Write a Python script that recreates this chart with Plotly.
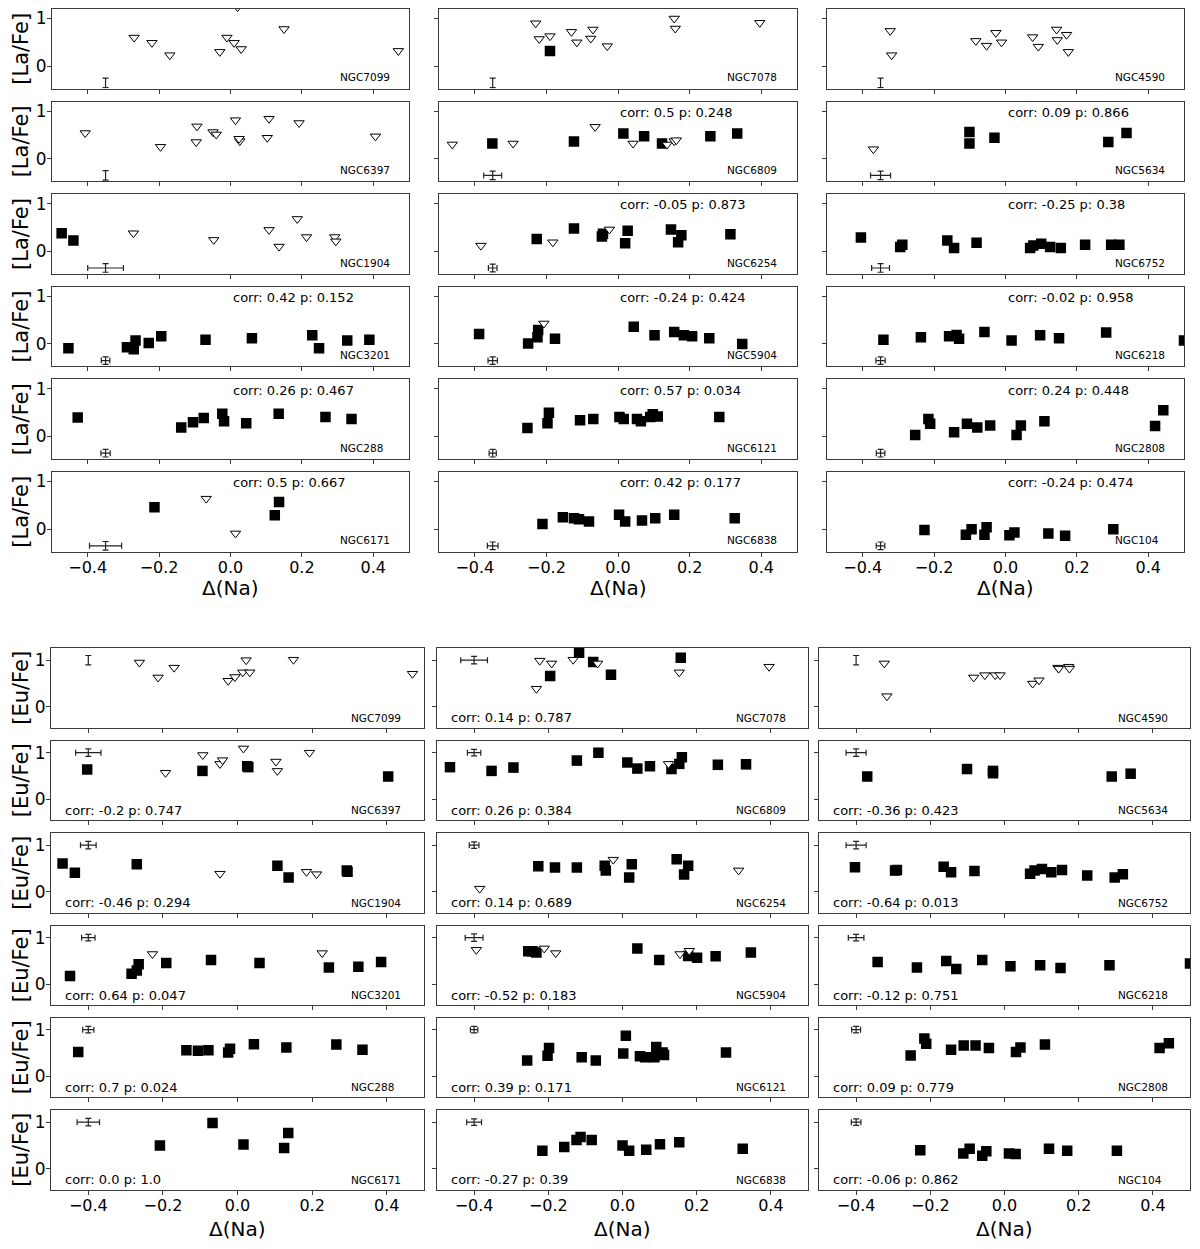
import plotly.graph_objects as go

# ---------------------------------------------------------------------------
# data: (delta Na, [X/Fe]) pairs
# sq = detections (filled squares), tri = upper limits (open triangles)
# ---------------------------------------------------------------------------
CLUSTERS = ["NGC7099", "NGC7078", "NGC4590",
            "NGC6397", "NGC6809", "NGC5634",
            "NGC1904", "NGC6254", "NGC6752",
            "NGC3201", "NGC5904", "NGC6218",
            "NGC288", "NGC6121", "NGC2808",
            "NGC6171", "NGC6838", "NGC104"]

# [La/Fe]
la_sq_7099 = []
la_tri_7099 = [(-0.27, 0.60), (-0.22, 0.49), (-0.17, 0.23), (-0.03, 0.30), (-0.01, 0.60),
               (0.01, 0.49), (0.03, 0.36), (0.15, 0.78), (0.47, 0.32), (0.02, 1.24)]
la_sq_7078 = [(-0.19, 0.32)]
la_tri_7078 = [(-0.23, 0.90), (-0.22, 0.57), (-0.19, 0.63), (-0.13, 0.72), (-0.115, 0.50),
               (-0.07, 0.77), (-0.076, 0.58), (-0.03, 0.42), (0.157, 1.0), (0.16, 0.79), (0.396, 0.91)]
la_sq_4590 = []
la_tri_4590 = [(-0.323, 0.74), (-0.319, 0.23), (-0.083, 0.53), (-0.053, 0.43), (-0.027, 0.70),
               (-0.011, 0.50), (0.076, 0.61), (0.092, 0.41), (0.143, 0.77), (0.145, 0.55),
               (0.171, 0.66), (0.176, 0.30)]
la_sq_6397 = []
la_tri_6397 = [(-0.407, 0.54), (-0.196, 0.25), (-0.094, 0.68), (-0.096, 0.35), (-0.049, 0.56),
               (-0.040, 0.51), (0.014, 0.81), (0.026, 0.37), (0.024, 0.42), (0.108, 0.84),
               (0.103, 0.44), (0.192, 0.75), (0.406, 0.47)]
la_sq_6809 = [(-0.351, 0.32), (-0.123, 0.36), (0.015, 0.53), (0.073, 0.47), (0.123, 0.32),
              (0.258, 0.47), (0.333, 0.53)]
la_tri_6809 = [(-0.463, 0.30), (-0.293, 0.32), (-0.064, 0.67), (0.042, 0.32), (0.137, 0.30),
               (0.157, 0.37), (0.163, 0.39)]
la_sq_5634 = [(-0.101, 0.56), (-0.101, 0.32), (-0.031, 0.44), (0.288, 0.35), (0.339, 0.54)]
la_tri_5634 = [(-0.370, 0.20)]
la_sq_1904 = [(-0.473, 0.38), (-0.440, 0.23)]
la_tri_1904 = [(-0.272, 0.38), (-0.047, 0.24), (0.108, 0.45), (0.136, 0.10), (0.187, 0.68),
               (0.213, 0.30), (0.292, 0.30), (0.295, 0.21)]
la_sq_6254 = [(-0.227, 0.26), (-0.123, 0.48), (-0.045, 0.31), (-0.042, 0.37), (0.027, 0.43),
              (0.020, 0.17), (0.148, 0.46), (0.177, 0.34), (0.168, 0.19), (0.314, 0.36)]
la_tri_6254 = [(-0.383, 0.12), (-0.182, 0.19), (-0.024, 0.46)]
la_sq_6752 = [(-0.405, 0.29), (-0.295, 0.09), (-0.289, 0.14), (-0.163, 0.23), (-0.144, 0.07),
              (-0.081, 0.18), (0.069, 0.07), (0.078, 0.12), (0.100, 0.16), (0.125, 0.09),
              (0.155, 0.07), (0.223, 0.14), (0.296, 0.14), (0.319, 0.14)]
la_tri_6752 = []
la_sq_3201 = [(-0.454, -0.09), (-0.290, -0.07), (-0.271, -0.11), (-0.266, 0.07), (-0.229, 0.02),
              (-0.194, 0.16), (-0.070, 0.09), (0.060, 0.12), (0.229, 0.18), (0.248, -0.09),
              (0.327, 0.07), (0.389, 0.09)]
la_tri_3201 = []
la_sq_5904 = [(-0.388, 0.21), (-0.251, 0.01), (-0.225, 0.14), (-0.223, 0.29), (-0.176, 0.11),
              (0.044, 0.36), (0.102, 0.18), (0.157, 0.25), (0.184, 0.18), (0.207, 0.16),
              (0.255, 0.12), (0.347, 0.0)]
la_tri_5904 = [(-0.207, 0.43)]
la_sq_6218 = [(-0.342, 0.09), (-0.237, 0.14), (-0.158, 0.16), (-0.137, 0.19), (-0.130, 0.11),
              (-0.059, 0.25), (0.017, 0.07), (0.097, 0.18), (0.150, 0.12), (0.282, 0.24), (0.50, 0.07)]
la_tri_6218 = []
la_sq_288 = [(-0.428, 0.40), (-0.138, 0.19), (-0.105, 0.30), (-0.075, 0.39), (-0.023, 0.48),
             (-0.018, 0.32), (0.044, 0.28), (0.135, 0.48), (0.266, 0.41), (0.339, 0.37)]
la_tri_288 = []
la_sq_6121 = [(-0.253, 0.18), (-0.197, 0.28), (-0.193, 0.50), (-0.106, 0.34), (-0.069, 0.37),
              (0.004, 0.41), (0.016, 0.37), (0.053, 0.37), (0.064, 0.32), (0.090, 0.41),
              (0.097, 0.47), (0.111, 0.42), (0.283, 0.41)]
la_tri_6121 = []
la_sq_2808 = [(-0.253, 0.03), (-0.216, 0.37), (-0.211, 0.27), (-0.144, 0.09), (-0.108, 0.27),
              (-0.079, 0.19), (-0.043, 0.23), (0.031, 0.03), (0.043, 0.23), (0.109, 0.32),
              (0.419, 0.22), (0.442, 0.55)]
la_tri_2808 = []
la_sq_6171 = [(-0.213, 0.46), (0.124, 0.29), (0.136, 0.57)]
la_tri_6171 = [(-0.068, 0.64), (0.014, -0.09)]
la_sq_6838 = [(-0.211, 0.11), (-0.154, 0.25), (-0.123, 0.23), (-0.109, 0.21), (-0.081, 0.16),
              (0.003, 0.30), (0.020, 0.16), (0.067, 0.18), (0.104, 0.23), (0.157, 0.30), (0.326, 0.23)]
la_tri_6838 = []
la_sq_104 = [(-0.227, -0.02), (-0.111, -0.12), (-0.095, 0.0), (-0.059, -0.12), (-0.053, 0.04),
             (0.011, -0.13), (0.025, -0.07), (0.120, -0.09), (0.167, -0.14), (0.302, 0.0)]
la_tri_104 = []

# [Eu/Fe]
eu_sq_7099 = []
eu_tri_7099 = [(-0.263, 0.95), (-0.213, 0.63), (-0.170, 0.84), (-0.025, 0.56), (-0.007, 0.64),
               (0.014, 0.74), (0.023, 1.0), (0.033, 0.74), (0.150, 1.01), (0.469, 0.71)]
eu_sq_7078 = [(-0.117, 1.16), (-0.195, 0.66), (-0.079, 0.96), (-0.031, 0.69), (0.157, 1.05)]
eu_tri_7078 = [(-0.223, 0.99), (-0.191, 0.93), (-0.232, 0.39), (-0.133, 1.01), (-0.067, 0.93),
               (0.153, 0.74), (0.395, 0.86)]
eu_sq_4590 = []
eu_tri_4590 = [(-0.324, 0.93), (-0.317, 0.23), (-0.083, 0.63), (-0.053, 0.68), (-0.025, 0.68),
               (-0.012, 0.68), (0.076, 0.50), (0.093, 0.57), (0.144, 0.84), (0.146, 0.82),
               (0.173, 0.86), (0.175, 0.82)]
eu_sq_6397 = [(-0.403, 0.64), (-0.094, 0.61), (0.026, 0.71), (0.029, 0.69), (0.404, 0.49)]
eu_tri_6397 = [(-0.193, 0.57), (-0.093, 0.95), (-0.047, 0.76), (-0.040, 0.84), (0.016, 1.09),
               (0.103, 0.81), (0.107, 0.61), (0.193, 1.0)]
eu_sq_6809 = [(-0.465, 0.69), (-0.353, 0.61), (-0.294, 0.68), (-0.123, 0.83), (-0.065, 1.0),
              (0.013, 0.79), (0.040, 0.66), (0.074, 0.71), (0.132, 0.65), (0.153, 0.76),
              (0.160, 0.90), (0.257, 0.74), (0.333, 0.75)]
eu_tri_6809 = [(0.124, 0.76)]
eu_sq_5634 = [(-0.370, 0.49), (-0.101, 0.65), (-0.031, 0.61), (-0.031, 0.56), (0.289, 0.49), (0.340, 0.55)]
eu_tri_5634 = []
eu_sq_1904 = [(-0.469, 0.61), (-0.436, 0.41), (-0.270, 0.59), (0.107, 0.56), (0.137, 0.31),
              (0.293, 0.46), (0.295, 0.43)]
eu_tri_1904 = [(-0.047, 0.39), (0.185, 0.43), (0.212, 0.38)]
eu_sq_6254 = [(-0.227, 0.55), (-0.182, 0.52), (-0.123, 0.52), (-0.048, 0.56), (-0.045, 0.46),
              (0.018, 0.31), (0.025, 0.59), (0.146, 0.70), (0.177, 0.56), (0.166, 0.37)]
eu_tri_6254 = [(-0.385, 0.07), (-0.025, 0.69), (0.313, 0.46)]
eu_sq_6752 = [(-0.403, 0.53), (-0.295, 0.46), (-0.290, 0.47), (-0.164, 0.54), (-0.144, 0.42),
              (-0.081, 0.45), (0.069, 0.39), (0.081, 0.46), (0.101, 0.49), (0.126, 0.42),
              (0.155, 0.47), (0.223, 0.35), (0.297, 0.31), (0.319, 0.38)]
eu_tri_6752 = []
eu_sq_3201 = [(-0.449, 0.18), (-0.284, 0.23), (-0.270, 0.30), (-0.265, 0.43), (-0.191, 0.46),
              (-0.071, 0.52), (0.059, 0.46), (0.245, 0.36), (0.324, 0.38), (0.385, 0.48)]
eu_tri_3201 = [(-0.228, 0.65), (0.227, 0.67)]
eu_sq_5904 = [(-0.254, 0.71), (-0.243, 0.71), (-0.232, 0.68), (0.040, 0.77), (0.099, 0.52),
              (0.177, 0.61), (0.201, 0.57), (0.251, 0.60), (0.346, 0.68)]
eu_tri_5904 = [(-0.394, 0.74), (-0.211, 0.77), (-0.180, 0.67), (0.155, 0.65), (0.180, 0.72)]
eu_sq_6218 = [(-0.342, 0.48), (-0.236, 0.36), (-0.157, 0.50), (-0.130, 0.33), (-0.060, 0.52),
              (0.016, 0.39), (0.096, 0.41), (0.151, 0.35), (0.283, 0.41), (0.50, 0.45)]
eu_tri_6218 = []
eu_sq_288 = [(-0.427, 0.52), (-0.137, 0.56), (-0.106, 0.55), (-0.078, 0.56), (-0.025, 0.51),
             (-0.020, 0.59), (0.044, 0.69), (0.131, 0.62), (0.265, 0.68), (0.335, 0.57)]
eu_tri_288 = []
eu_sq_6121 = [(-0.257, 0.34), (-0.202, 0.44), (-0.198, 0.61), (-0.110, 0.41), (-0.072, 0.34),
              (0.002, 0.49), (0.009, 0.87), (0.047, 0.43), (0.061, 0.41), (0.086, 0.41),
              (0.091, 0.63), (0.108, 0.51), (0.112, 0.46), (0.279, 0.51)]
eu_tri_6121 = []
eu_sq_2808 = [(-0.253, 0.45), (-0.216, 0.81), (-0.211, 0.70), (-0.144, 0.57), (-0.110, 0.66),
              (-0.078, 0.66), (-0.042, 0.61), (0.031, 0.52), (0.043, 0.62), (0.109, 0.68),
              (0.418, 0.61), (0.443, 0.71)]
eu_tri_2808 = []
eu_sq_6171 = [(-0.208, 0.50), (-0.067, 0.98), (0.016, 0.52), (0.125, 0.45), (0.136, 0.77)]
eu_tri_6171 = []
eu_sq_6838 = [(-0.216, 0.39), (-0.157, 0.47), (-0.124, 0.62), (-0.113, 0.68), (-0.083, 0.62),
              (0.000, 0.50), (0.018, 0.39), (0.064, 0.41), (0.101, 0.53), (0.153, 0.57), (0.324, 0.43)]
eu_tri_6838 = []
eu_sq_104 = [(-0.227, 0.40), (-0.111, 0.33), (-0.094, 0.43), (-0.060, 0.28), (-0.049, 0.38),
             (0.012, 0.33), (0.030, 0.32), (0.120, 0.43), (0.169, 0.39), (0.303, 0.39)]
eu_tri_104 = []

LA_SQ = [la_sq_7099, la_sq_7078, la_sq_4590, la_sq_6397, la_sq_6809, la_sq_5634,
         la_sq_1904, la_sq_6254, la_sq_6752, la_sq_3201, la_sq_5904, la_sq_6218,
         la_sq_288, la_sq_6121, la_sq_2808, la_sq_6171, la_sq_6838, la_sq_104]
LA_TRI = [la_tri_7099, la_tri_7078, la_tri_4590, la_tri_6397, la_tri_6809, la_tri_5634,
          la_tri_1904, la_tri_6254, la_tri_6752, la_tri_3201, la_tri_5904, la_tri_6218,
          la_tri_288, la_tri_6121, la_tri_2808, la_tri_6171, la_tri_6838, la_tri_104]
EU_SQ = [eu_sq_7099, eu_sq_7078, eu_sq_4590, eu_sq_6397, eu_sq_6809, eu_sq_5634,
         eu_sq_1904, eu_sq_6254, eu_sq_6752, eu_sq_3201, eu_sq_5904, eu_sq_6218,
         eu_sq_288, eu_sq_6121, eu_sq_2808, eu_sq_6171, eu_sq_6838, eu_sq_104]
EU_TRI = [eu_tri_7099, eu_tri_7078, eu_tri_4590, eu_tri_6397, eu_tri_6809, eu_tri_5634,
          eu_tri_1904, eu_tri_6254, eu_tri_6752, eu_tri_3201, eu_tri_5904, eu_tri_6218,
          eu_tri_288, eu_tri_6121, eu_tri_2808, eu_tri_6171, eu_tri_6838, eu_tri_104]

LA_CORR = [None, None, None,
           None, "corr: 0.5 p: 0.248", "corr: 0.09 p: 0.866",
           None, "corr: -0.05 p: 0.873", "corr: -0.25 p: 0.38",
           "corr: 0.42 p: 0.152", "corr: -0.24 p: 0.424", "corr: -0.02 p: 0.958",
           "corr: 0.26 p: 0.467", "corr: 0.57 p: 0.034", "corr: 0.24 p: 0.448",
           "corr: 0.5 p: 0.667", "corr: 0.42 p: 0.177", "corr: -0.24 p: 0.474"]
EU_CORR = [None, "corr: 0.14 p: 0.787", None,
           "corr: -0.2 p: 0.747", "corr: 0.26 p: 0.384", "corr: -0.36 p: 0.423",
           "corr: -0.46 p: 0.294", "corr: 0.14 p: 0.689", "corr: -0.64 p: 0.013",
           "corr: 0.64 p: 0.047", "corr: -0.52 p: 0.183", "corr: -0.12 p: 0.751",
           "corr: 0.7 p: 0.024", "corr: 0.39 p: 0.171", "corr: 0.09 p: 0.779",
           "corr: 0.0 p: 1.0", "corr: -0.27 p: 0.39", "corr: -0.06 p: 0.862"]

# typical uncertainties shown as one error cross per panel
LA_ERR_AT = (-0.35, -0.35)
LA_XERR = [0, 0, 0, 0, 0.025, 0.028, 0.05, 0.012, 0.025,
           0.012, 0.013, 0.013, 0.013, 0.01, 0.012, 0.045, 0.015, 0.012]
LA_YERR = [0.1, 0.1, 0.1, 0.1, 0.09, 0.09, 0.09, 0.08, 0.09,
           0.08, 0.08, 0.08, 0.08, 0.08, 0.08, 0.09, 0.08, 0.08]
EU_ERR_AT = (-0.4, 1.0)
EU_XERR = [0, 0.036, 0, 0.034, 0.018, 0.027, 0.021, 0.013, 0.027,
           0.018, 0.024, 0.021, 0.015, 0.01, 0.012, 0.03, 0.02, 0.013]
EU_YERR = [0.1, 0.08, 0.1, 0.08, 0.07, 0.08, 0.08, 0.07, 0.08,
           0.07, 0.08, 0.07, 0.07, 0.07, 0.07, 0.08, 0.07, 0.07]

X_TICKS = [-0.4, -0.2, 0.0, 0.2, 0.4]

# ---------------------------------------------------------------------------
# layout (pixels in the page; the page body adds an 8 px offset)
# ---------------------------------------------------------------------------
OFF = 8
W, H = 1200 - OFF, 1249 - OFF
PANEL_H = 79.5
TOP_COLS = [(52, 409), (439, 797), (827, 1184)]
TOP_ROWS = [9, 101.6, 194.2, 286.8, 379.4, 472]
BOT_COLS = [(51, 424), (437, 808), (819, 1190)]
BOT_ROWS = [648, 740.5, 833, 925.5, 1017.5, 1110]

INK = "#000000"
FRAME = "#3a3a3a"
FONT = "DejaVu Sans"


def px_x(px):
    return (px - OFF) / W


def px_y(py):
    return 1 - (py - OFF) / H


def axis_ids(k):
    s = "" if k == 1 else str(k)
    return "x" + s, "y" + s, "xaxis" + s, "yaxis" + s


def add_block(fig, k0, cols, rows, yrange, ytitle, sq_sets, tri_sets,
              err_at, xerrs, yerrs, corrs, corr_pos, name_y, xtitle_y):
    for i, name in enumerate(CLUSTERS):
        r, c = divmod(i, 3)
        k = k0 + i
        xa, ya, xkey, ykey = axis_ids(k)
        left, right = cols[c]
        top = rows[r]
        bottom = top + PANEL_H
        fig.update_layout({
            xkey: dict(domain=[px_x(left), px_x(right)], anchor=ya, range=[-0.5, 0.5],
                       tickvals=X_TICKS, tickformat=".1f", showticklabels=(r == 5),
                       ticks="outside", ticklen=4, tickcolor=FRAME, showgrid=False,
                       zeroline=False, showline=True, linecolor=FRAME, linewidth=1,
                       mirror=True, ticklabelstandoff=-3,
                       tickfont=dict(size=16, color=INK, family=FONT)),
            ykey: dict(domain=[px_y(bottom), px_y(top)], anchor=xa, range=yrange,
                       tickvals=[0, 1], ticktext=["0", "1"], showticklabels=(c == 0),
                       ticks="outside", ticklen=4, tickcolor=FRAME, showgrid=False,
                       zeroline=False, showline=True, linecolor=FRAME, linewidth=1,
                       mirror=True, ticklabelstandoff=-3,
                       tickfont=dict(size=17, color=INK, family=FONT)),
        })

        sq = sq_sets[i]
        tri = tri_sets[i]
        if sq:
            fig.add_trace(go.Scatter(
                x=[p[0] for p in sq], y=[p[1] for p in sq], xaxis=xa, yaxis=ya,
                mode="markers", hoverinfo="skip",
                marker=dict(symbol="square", size=10.5, color=INK, line=dict(width=0)),
            ))
        if tri:
            fig.add_trace(go.Scatter(
                x=[p[0] for p in tri], y=[p[1] for p in tri], xaxis=xa, yaxis=ya,
                mode="markers", hoverinfo="skip",
                marker=dict(symbol="triangle-down", size=9, color="white",
                            line=dict(width=1, color=INK)),
            ))
        xe, ye = xerrs[i], yerrs[i]
        fig.add_trace(go.Scatter(
            x=[err_at[0]], y=[err_at[1]], xaxis=xa, yaxis=ya, mode="markers",
            hoverinfo="skip", marker=dict(size=1, color="rgba(0,0,0,0)"),
            error_x=dict(type="constant", value=xe, visible=xe > 0, color="#222",
                         thickness=1.2, width=3),
            error_y=dict(type="constant", value=ye, color="#222", thickness=1.2, width=3),
        ))

        if corrs[i]:
            fig.add_annotation(xref=xa + " domain", yref=ya + " domain",
                               x=corr_pos[0], y=corr_pos[1], text=corrs[i],
                               showarrow=False, xanchor="left", yanchor="middle",
                               font=dict(size=13, color=INK, family=FONT))
        fig.add_annotation(xref=xa + " domain", yref=ya + " domain",
                           x=0.8, y=name_y, text=name, showarrow=False,
                           xanchor="left", yanchor="middle",
                           font=dict(size=10.5, color=INK, family=FONT))
        if c == 0:
            fig.add_annotation(xref="paper", yref="paper", x=px_x(21),
                               y=px_y(top + PANEL_H / 2), text=ytitle,
                               textangle=-90, showarrow=False,
                               xanchor="center", yanchor="middle",
                               font=dict(size=21, color=INK, family=FONT))
        if r == 5:
            fig.add_annotation(xref="paper", yref="paper", x=px_x((left + right) / 2),
                               y=px_y(xtitle_y), text="Δ(Na)", showarrow=False,
                               xanchor="center", yanchor="middle",
                               font=dict(size=20, color=INK, family=FONT))


fig = go.Figure()
add_block(fig, 1, TOP_COLS, TOP_ROWS, [-0.47, 1.2], "[La/Fe]", LA_SQ, LA_TRI,
          LA_ERR_AT, LA_XERR, LA_YERR, LA_CORR, (0.5, 0.865), 0.14, 588)
add_block(fig, 19, BOT_COLS, BOT_ROWS, [-0.44, 1.26], "[Eu/Fe]", EU_SQ, EU_TRI,
          EU_ERR_AT, EU_XERR, EU_YERR, EU_CORR, (0.032, 0.125), 0.125, 1229)

fig.update_layout(
    width=W, height=H, margin=dict(l=0, r=0, t=0, b=0),
    showlegend=False, paper_bgcolor="white", plot_bgcolor="white",
    font=dict(family=FONT, color=INK),
)
fig.write_html("out.html")
